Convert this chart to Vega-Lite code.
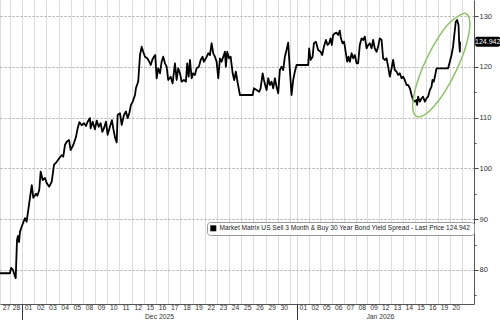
{
  "$schema": "https://vega.github.io/schema/vega-lite/v6.json",
  "width": 474,
  "height": 304,
  "autosize": {"type": "none"},
  "padding": {"left": 0, "top": 0, "right": 26, "bottom": 16},
  "background": "white",
  "config": {"view": {"stroke": null}, "font": "Liberation Sans"},
  "resolve": {"axis": {"x": "independent", "y": "independent"}},
  "layer": [
    {
      "data": {"values": [
        {"t":0.15,"v":79.35},{"t":0.57,"v":79.35},{"t":0.99,"v":79.35},{"t":1.08,"v":80.39},{"t":1.24,"v":80.0},{"t":1.37,"v":79.0},{"t":1.47,"v":78.4},{"t":1.58,"v":85.9},{"t":1.66,"v":86.7},{"t":1.75,"v":85.5},{"t":1.83,"v":87.5},{"t":1.97,"v":88.5},
        {"t":2.25,"v":90.2},{"t":2.39,"v":89.5},{"t":2.61,"v":93.2},{"t":2.82,"v":96.7},{"t":2.95,"v":94.2},{"t":3.18,"v":95.0},{"t":3.29,"v":94.6},{"t":3.45,"v":95.75},{"t":3.57,"v":99.35},{"t":3.74,"v":97.7},{"t":3.93,"v":98.1},{"t":4.08,"v":97.1},{"t":4.29,"v":96.4},{"t":4.5,"v":97.4},{"t":4.69,"v":100.7},{"t":4.92,"v":101.3},{"t":5.13,"v":102.0},{"t":5.34,"v":102.6},{"t":5.47,"v":102.3},{"t":5.61,"v":104.6},{"t":5.76,"v":105.25},{"t":5.95,"v":105.6},{"t":6.09,"v":103.6},{"t":6.31,"v":104.6},{"t":6.54,"v":106.2},{"t":6.68,"v":107.9},{"t":6.82,"v":109.1},{"t":7.02,"v":108.5},{"t":7.21,"v":108.9},{"t":7.38,"v":108.35},{"t":7.52,"v":109.2},{"t":7.71,"v":109.9},{"t":7.77,"v":107.9},{"t":7.94,"v":109.2},{"t":8.13,"v":107.7},{"t":8.28,"v":109.4},{"t":8.45,"v":108.2},{"t":8.61,"v":108.9},{"t":8.75,"v":107.2},{"t":8.89,"v":107.9},{"t":9.06,"v":109.2},{"t":9.2,"v":106.6},{"t":9.39,"v":108.2},{"t":9.56,"v":109.5},{"t":9.67,"v":107.9},{"t":9.81,"v":106.2},{"t":9.96,"v":105.1},{"t":10.04,"v":110.5},{"t":10.24,"v":110.85},{"t":10.38,"v":108.55},{"t":10.57,"v":110.5},{"t":10.74,"v":111.2},{"t":10.88,"v":109.9},{"t":11.02,"v":110.85},{"t":11.16,"v":112.5},{"t":11.3,"v":113.1},{"t":11.5,"v":114.45},{"t":11.58,"v":115.8},{"t":11.77,"v":117.1},{"t":11.92,"v":122.3},{"t":12.06,"v":123.95},{"t":12.19,"v":122.97},{"t":12.34,"v":121.99},{"t":12.53,"v":121.67},{"t":12.7,"v":121.0},{"t":12.82,"v":120.35},{"t":12.95,"v":121.34},{"t":13.09,"v":121.99},{"t":13.2,"v":122.32},{"t":13.32,"v":117.74},{"t":13.45,"v":119.7},{"t":13.6,"v":118.72},{"t":13.74,"v":121.0},{"t":13.87,"v":121.99},{"t":14.02,"v":120.69},{"t":14.16,"v":120.02},{"t":14.29,"v":117.4},{"t":14.5,"v":118.05},{"t":14.66,"v":116.75},{"t":14.86,"v":120.69},{"t":15.0,"v":117.4},{"t":15.13,"v":119.7},{"t":15.28,"v":118.72},{"t":15.42,"v":117.07},{"t":15.61,"v":117.4},{"t":15.78,"v":117.07},{"t":15.89,"v":120.69},{"t":16.01,"v":118.05},{"t":16.12,"v":121.34},{"t":16.26,"v":117.74},{"t":16.39,"v":118.72},{"t":16.54,"v":118.39},{"t":16.68,"v":119.7},{"t":16.87,"v":120.02},{"t":17.02,"v":121.34},{"t":17.18,"v":121.99},{"t":17.29,"v":121.0},{"t":17.46,"v":121.67},{"t":17.66,"v":122.66},{"t":17.8,"v":122.32},{"t":17.94,"v":124.63},{"t":18.08,"v":122.66},{"t":18.22,"v":121.99},{"t":18.36,"v":121.0},{"t":18.5,"v":117.74},{"t":18.64,"v":121.67},{"t":18.78,"v":121.0},{"t":18.92,"v":121.99},{"t":19.06,"v":122.97},{"t":19.14,"v":120.02},{"t":19.25,"v":122.97},{"t":19.4,"v":121.67},{"t":19.54,"v":121.99},{"t":19.71,"v":118.72},{"t":19.84,"v":117.4},{"t":19.98,"v":119.04},{"t":20.09,"v":117.4},{"t":20.32,"v":114.45},{"t":21.39,"v":114.45},{"t":21.5,"v":115.77},{"t":21.72,"v":115.43},{"t":21.94,"v":115.1},{"t":22.06,"v":115.77},{"t":22.23,"v":118.72},{"t":22.34,"v":117.4},{"t":22.48,"v":116.08},{"t":22.56,"v":115.43},{"t":22.7,"v":117.74},{"t":22.84,"v":116.42},{"t":22.98,"v":117.07},{"t":23.12,"v":115.77},{"t":23.26,"v":117.74},{"t":23.4,"v":116.08},{"t":23.54,"v":114.78},{"t":23.68,"v":119.37},{"t":23.82,"v":120.02},{"t":23.96,"v":119.37},{"t":24.1,"v":121.99},{"t":24.24,"v":123.31},{"t":24.38,"v":124.74},{"t":24.52,"v":119.37},{"t":24.66,"v":114.45},{"t":24.8,"v":117.4},{"t":24.94,"v":119.04},{"t":25.08,"v":120.35},{"t":26.06,"v":120.35},{"t":26.14,"v":123.64},{"t":26.26,"v":121.34},{"t":26.43,"v":121.99},{"t":26.54,"v":124.63},{"t":26.71,"v":124.94},{"t":26.9,"v":123.31},{"t":27.1,"v":122.97},{"t":27.24,"v":122.32},{"t":27.38,"v":123.96},{"t":27.55,"v":125.28},{"t":27.69,"v":124.29},{"t":27.82,"v":124.63},{"t":27.94,"v":125.61},{"t":28.05,"v":124.29},{"t":28.16,"v":126.26},{"t":28.3,"v":126.6},{"t":28.45,"v":126.71},{"t":28.58,"v":126.26},{"t":28.72,"v":127.11},{"t":28.81,"v":125.61},{"t":28.95,"v":124.63},{"t":29.08,"v":124.94},{"t":29.23,"v":122.66},{"t":29.34,"v":121.0},{"t":29.45,"v":121.99},{"t":29.56,"v":121.0},{"t":29.71,"v":122.66},{"t":29.84,"v":121.67},{"t":29.98,"v":122.32},{"t":30.13,"v":120.69},{"t":30.26,"v":120.69},{"t":30.4,"v":124.29},{"t":30.55,"v":125.61},{"t":30.68,"v":125.28},{"t":30.82,"v":125.93},{"t":30.97,"v":123.64},{"t":31.1,"v":124.29},{"t":31.24,"v":124.63},{"t":31.39,"v":123.64},{"t":31.52,"v":125.28},{"t":31.66,"v":123.64},{"t":31.81,"v":122.97},{"t":31.94,"v":123.96},{"t":32.08,"v":125.61},{"t":32.23,"v":125.28},{"t":32.36,"v":121.67},{"t":32.5,"v":121.34},{"t":32.65,"v":121.67},{"t":32.78,"v":120.02},{"t":32.92,"v":118.05},{"t":33.07,"v":119.7},{"t":33.2,"v":121.34},{"t":33.34,"v":119.37},{"t":33.49,"v":119.04},{"t":33.62,"v":118.39},{"t":33.76,"v":118.72},{"t":33.91,"v":117.74},{"t":34.04,"v":118.05},{"t":34.18,"v":117.4},{"t":34.33,"v":116.42},{"t":34.46,"v":116.42},{"t":34.61,"v":115.77},{"t":34.75,"v":114.45},{"t":34.88,"v":113.47},{"t":35.03,"v":113.13},{"t":35.17,"v":113.47},{"t":35.22,"v":112.48},{"t":35.3,"v":114.11},{"t":35.45,"v":113.13},{"t":35.59,"v":113.8},{"t":35.72,"v":114.11},{"t":35.87,"v":113.13},{"t":36.01,"v":113.8},{"t":36.14,"v":114.11},{"t":36.29,"v":115.43},{"t":36.43,"v":116.08},{"t":36.51,"v":117.4},{"t":36.62,"v":117.07},{"t":36.71,"v":118.05},{"t":36.85,"v":119.7},{"t":37.82,"v":119.7},{"t":37.97,"v":121.0},{"t":38.11,"v":122.32},{"t":38.24,"v":123.96},{"t":38.39,"v":127.24},{"t":38.47,"v":128.88},{"t":38.58,"v":129.21},{"t":38.7,"v":128.23},{"t":38.75,"v":124.94},{"t":38.81,"v":122.97},{"t":38.83,"v":124.942}
      ]},
      "mark": {"type": "line", "strokeWidth": 1.8, "strokeJoin": "round"},
      "encoding": {
        "x": {
          "field": "t", "type": "quantitative",
          "scale": {"domain": [0.15, 40], "nice": false, "zero": false},
          "axis": {
            "title": null,
            "values": [0.15,0.99,2.0,3.03,4.05,5.08,6.1,7.13,8.14,9.17,10.19,11.22,12.24,13.27,14.29,15.32,16.34,17.37,18.39,19.41,20.44,21.46,22.49,23.51,24.54,25.11,26.1,27.08,28.08,29.07,30.06,31.04,32.03,33.03,34.01,35.0,35.99,36.97,37.97,38.96],
            "labelExpr": "['27','28','01','02','03','04','05','08','09','10','11','12','15','16','17','18','19','22','23','24','25','26','29','30','','01','02','05','06','07','08','09','12','13','14','15','16','19','20',''][indexof([0.15,0.99,2.0,3.03,4.05,5.08,6.1,7.13,8.14,9.17,10.19,11.22,12.24,13.27,14.29,15.32,16.34,17.37,18.39,19.41,20.44,21.46,22.49,23.51,24.54,25.11,26.1,27.08,28.08,29.07,30.06,31.04,32.03,33.03,34.01,35.0,35.99,36.97,37.97,38.96], datum.value)]",
            "labelOffset": 6,
            "labelFlush": false,
            "labelOverlap": false,
            "labelFontSize": 6.8,
            "labelColor": "#333",
            "labelPadding": 0,
            "ticks": false,
            "grid": true,
            "gridColor": "#dcdcdc",
            "gridWidth": 1,
            "domainColor": "#555",
            "domainWidth": 1
          }
        },
        "y": {
          "field": "v", "type": "quantitative",
          "scale": {"domain": [73.3, 133.15], "nice": false, "zero": false},
          "axis": {
            "title": null,
            "orient": "right",
            "values": [80, 90, 100, 110, 120, 130],
            "labelFontSize": 7.5,
            "labelColor": "#333",
            "labelPadding": 1,
            "grid": true,
            "gridDash": [2, 2],
            "gridColor": "#a8a8a8",
            "tickSize": 4,
            "tickColor": "#444",
            "domainColor": "#555"
          }
        },
        "color": {
          "datum": "Market Matrix US Sell 3 Month & Buy 30 Year Bond Yield Spread - Last Price 124.942",
          "type": "nominal",
          "scale": {"range": ["#000000"]},
          "legend": {
            "title": null,
            "orient": "none",
            "legendX": 207,
            "legendY": 222,
            "symbolType": "square",
            "symbolSize": 36,
            "symbolFillColor": "#000",
            "symbolStrokeWidth": 0,
            "labelFontSize": 6.6,
            "labelColor": "#222",
            "labelLimit": 500,
            "labelOffset": 3,
            "padding": 3,
            "strokeColor": "#999",
            "fillColor": "#fff",
            "cornerRadius": 3
          }
        }
      }
    },
    {
      "data": {"values": [
        {"o":0,"t":39.33,"v":130.46},{"o":1,"t":39.63,"v":129.18},{"o":2,"t":39.57,"v":126.54},{"o":3,"t":39.17,"v":122.97},{"o":4,"t":38.46,"v":118.99},{"o":5,"t":37.58,"v":115.22},{"o":6,"t":36.64,"v":112.24},{"o":7,"t":35.8,"v":110.49},{"o":8,"t":35.18,"v":110.24},{"o":9,"t":34.87,"v":111.53},{"o":10,"t":34.93,"v":114.17},{"o":11,"t":35.34,"v":117.74},{"o":12,"t":36.04,"v":121.72},{"o":13,"t":36.93,"v":125.49},{"o":14,"t":37.86,"v":128.47},{"o":15,"t":38.85,"v":130.22}
      ]},
      "mark": {"type": "line", "interpolate": "cardinal-closed", "color": "#8cc466", "strokeWidth": 1.5},
      "encoding": {
        "x": {
          "field": "t", "type": "quantitative",
          "axis": {
            "title": null,
            "orient": "bottom",
            "values": [2.0, 25.11],
            "labelExpr": "datum.value < 10 ? 'Dec 2025' : 'Jan 2026'",
            "labelOffset": {"condition": {"test": "datum.value < 10", "value": 137}, "value": 83},
            "labelFontSize": 6.8,
            "labelColor": "#333",
            "labelPadding": -7,
            "labelFlush": false,
            "labelOverlap": false,
            "ticks": true,
            "tickSize": 16,
            "tickColor": "#333",
            "tickWidth": 1,
            "grid": false,
            "domain": false
          }
        },
        "y": {
          "field": "v", "type": "quantitative",
          "axis": {
            "title": null,
            "orient": "right",
            "values": [75, 85, 95, 105, 115, 125],
            "labels": false,
            "grid": false,
            "domain": false,
            "tickSize": 2,
            "tickColor": "#444"
          }
        },
        "order": {"field": "o", "type": "quantitative"}
      }
    },
    {
      "data": {"values": [{"v": 124.942}]},
      "mark": {"type": "rect", "width": 25, "height": 10, "cornerRadius": 2, "color": "#000", "clip": false},
      "encoding": {
        "x": {"datum": 41.15, "type": "quantitative", "axis": null},
        "y": {"field": "v", "type": "quantitative", "axis": null}
      }
    },
    {
      "data": {"values": [{"v": 124.942}]},
      "mark": {"type": "text", "fontSize": 7, "color": "#fff", "align": "center", "baseline": "middle", "clip": false},
      "encoding": {
        "x": {"datum": 41.15, "type": "quantitative", "axis": null},
        "y": {"field": "v", "type": "quantitative", "axis": null},
        "text": {"field": "v", "type": "quantitative", "format": ".3f"}
      }
    }
  ]
}
